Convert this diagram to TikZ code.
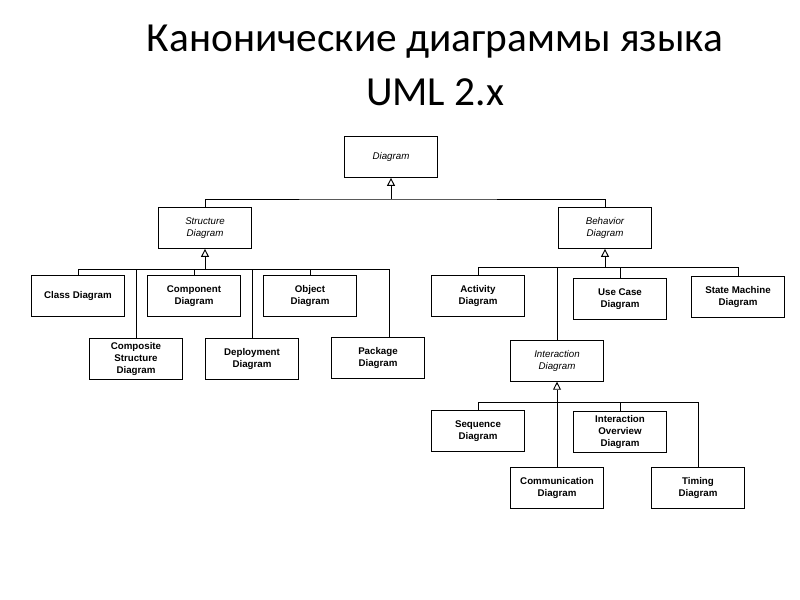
\documentclass[tikz,border=0pt]{standalone}
\usepackage{fontspec}
\setmainfont{Liberation Sans}
\newfontfamily\titlefont{Carlito}
\usetikzlibrary{arrows.meta}
\begin{document}
\begin{tikzpicture}[x=0.75pt,y=-0.75pt,
  box/.style={draw,line width=0.8pt,minimum width=69.5pt,minimum height=30.5pt,align=center,font=\fontsize{7.3}{8.7}\selectfont\bfseries,inner sep=1pt},
  abs/.style={box,font=\fontsize{7.3}{8.7}\selectfont\itshape},
  ln/.style={line width=0.7pt},
  inh/.style={ln,-{Triangle[open,length=6pt,width=6pt]}}]
\useasboundingbox (0,0) rectangle (800,600);
\node[font=\titlefont\fontsize{31}{36}\selectfont] (t1) at (435,42) {Канонические диаграммы языка};
\node[font=\titlefont\fontsize{31}{36}\selectfont] (t2) at (435,92) {UML 2.x};

\node[abs] (d) at (391,157) {Diagram};
\node[abs] (s) at (205,228) {Structure\\Diagram};
\node[abs] (b) at (605,228) {Behavior\\Diagram};
\node[box] (cl) at (78,296) {Class Diagram};
\node[box] (co) at (194,296) {Component\\Diagram};
\node[box] (ob) at (310,296) {Object\\Diagram};
\node[box] (cs) at (136,359) {Composite\\Structure\\Diagram};
\node[box] (de) at (252,359) {Deployment\\Diagram};
\node[box] (pa) at (378,358) {Package\\Diagram};
\node[box] (ac) at (478,296) {Activity\\Diagram};
\node[box] (uc) at (620,299) {Use Case\\Diagram};
\node[box] (sm) at (738,297) {State Machine\\Diagram};
\node[abs,line width=0.6pt] (in) at (557,361) {Interaction\\Diagram};
\node[box] (sq) at (478,431) {Sequence\\Diagram};
\node[box] (io) at (620,432) {Interaction\\Overview\\Diagram};
\node[box] (cm) at (557,488) {Communication\\Diagram};
\node[box] (ti) at (698,488) {Timing\\Diagram};

% top level
\coordinate (j0) at (391,199);
\draw[ln] (s.north) |- (j0) -| (b.north);
\draw[inh] (j0) -- (d.south);

% structure
\coordinate (j1) at (205,269);
\coordinate (pj) at (389,269);
\draw[ln] (cl.north) |- (pj) -- (389,338);
\draw[ln] (co.north) -- (co.north|-j1);
\draw[ln] (ob.north) -- (ob.north|-j1);
\draw[ln] (cs.north) -- (cs.north|-j1);
\draw[ln] (de.north) -- (de.north|-j1);
\draw[inh] (j1) -- (s.south);

% behavior
\coordinate (j2) at (605,267);
\draw[ln] (ac.north) |- (sm.north|-j2) -- (sm.north);
\draw[ln] (uc.north) -- (uc.north|-j2);
\draw[ln] (in.north) -- (in.north|-j2);
\draw[inh] (j2) -- (b.south);

% interaction
\coordinate (j3) at (557,402);
\draw[ln] (sq.north) |- (ti.north|-j3) -- (ti.north);
\draw[ln] (io.north) -- (io.north|-j3);
\draw[ln] (cm.north) -- (j3);
\draw[inh] (j3) -- (in.south);
\end{tikzpicture}
\end{document}
